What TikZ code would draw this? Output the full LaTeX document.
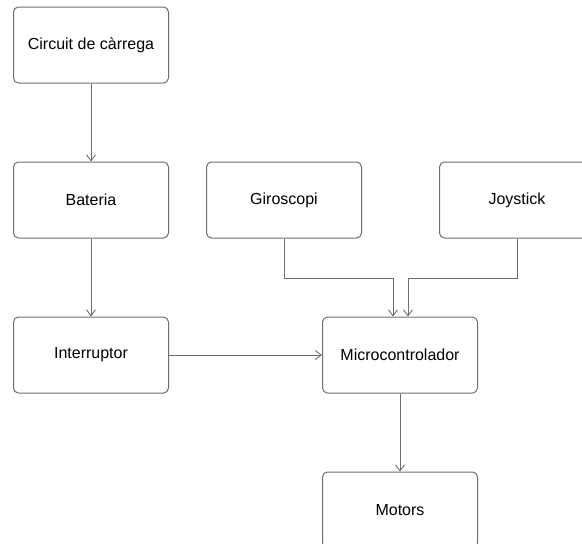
\documentclass[tikz,border=0pt]{standalone}
\usepackage{fontspec}
\setmainfont{Liberation Sans}
\usetikzlibrary{arrows.meta}
\definecolor{linegray}{HTML}{6E6E6E}
\begin{document}
\begin{tikzpicture}[>={Straight Barb[length=6pt,width=9pt]},x=1pt,y=1pt,
	every node/.style={font=\fontsize{16}{19}\selectfont},
	block/.style={draw=linegray,line width=1pt,rounded corners=5pt,minimum width=155pt,minimum height=76pt,inner sep=0pt},
	link/.style={->,draw=linegray,line width=0.9pt}]
		\clip (0,0) rectangle (582,-544);
		\node[block] (carrega) at (91,-45) {Circuit de càrrega};
		\node[block] (bateria) at (91,-200) {Bateria};
		\node[block] (interruptor) at (91,-355) {Interruptor};
		\node[block] (giroscopi) at (284,-200) {Giroscopi};
		\node[block] (joystick) at (517,-200) {Joystick};
		\node[block] (micro) at (400,-355) {Microcontrolador};
		\node[block] (motors) at (400,-510) {Motors};
		\draw[link] (carrega) -- (bateria);
		\draw[link] (bateria) -- (interruptor);
		\draw[link] (interruptor) -- (micro);
		\draw[link] (giroscopi.south) -- ++(0,-40) -| ([xshift=-7pt]micro.north);
		\draw[link] (joystick.south) -- ++(0,-40) -| ([xshift=8pt]micro.north);
		\draw[link] (micro) -- (motors);
		
		\end{tikzpicture}
\end{document}
